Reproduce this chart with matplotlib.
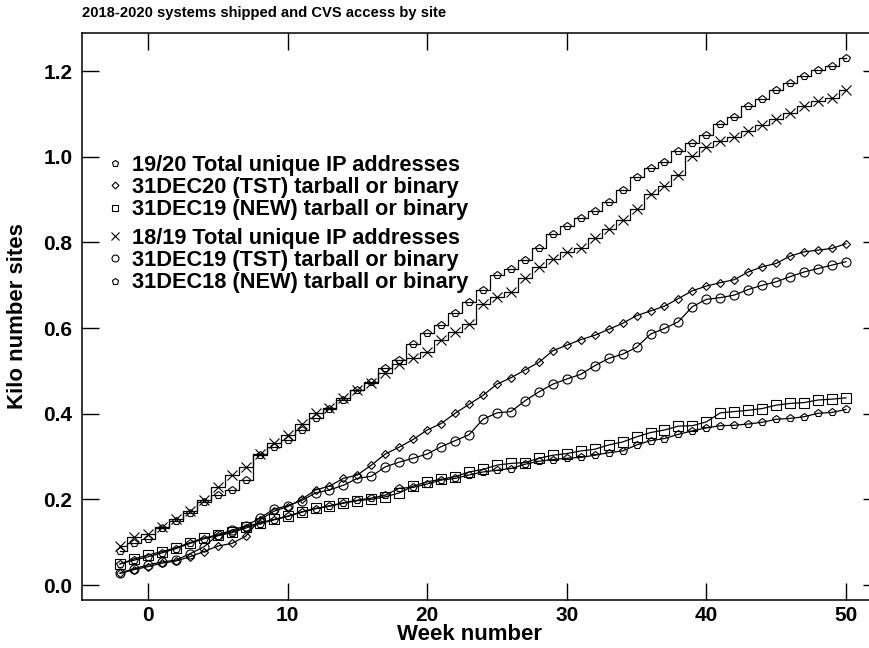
import matplotlib
matplotlib.use("Agg")
import matplotlib.pyplot as plt
from matplotlib.lines import Line2D

plt.rcParams['font.family'] = ['Liberation Sans', 'DejaVu Sans']
plt.rcParams['font.weight'] = 'bold'

weeks = list(range(-2, 51))

# 19/20 total unique IP addresses (step line, pentagons)
total_1920 = [0.080, 0.097, 0.107, 0.134, 0.150, 0.169, 0.195, 0.210, 0.223, 0.245,
              0.303, 0.323, 0.338, 0.363, 0.389, 0.412, 0.432, 0.455, 0.475, 0.507,
              0.525, 0.562, 0.589, 0.607, 0.636, 0.661, 0.690, 0.723, 0.739, 0.760,
              0.787, 0.819, 0.839, 0.856, 0.874, 0.895, 0.922, 0.953, 0.974, 0.988,
              1.014, 1.031, 1.050, 1.077, 1.093, 1.118, 1.136, 1.155, 1.173, 1.189,
              1.202, 1.211, 1.231]
# 18/19 total unique IP addresses (step line, crosses)
total_1819 = [0.092, 0.113, 0.119, 0.136, 0.153, 0.173, 0.198, 0.228, 0.257, 0.276,
              0.305, 0.332, 0.351, 0.375, 0.402, 0.413, 0.436, 0.455, 0.471, 0.496,
              0.516, 0.531, 0.545, 0.572, 0.590, 0.609, 0.657, 0.673, 0.684, 0.716,
              0.743, 0.762, 0.778, 0.788, 0.811, 0.832, 0.852, 0.877, 0.914, 0.932,
              0.957, 1.001, 1.023, 1.036, 1.046, 1.060, 1.074, 1.088, 1.103, 1.119,
              1.130, 1.138, 1.157]
# 31DEC20 (TST) tarball or binary
tst_dec20 = [0.027, 0.036, 0.043, 0.051, 0.056, 0.066, 0.078, 0.091, 0.097, 0.114,
             0.152, 0.172, 0.183, 0.200, 0.222, 0.231, 0.249, 0.257, 0.280, 0.306,
             0.322, 0.340, 0.362, 0.377, 0.401, 0.422, 0.443, 0.469, 0.484, 0.502,
             0.520, 0.547, 0.560, 0.573, 0.583, 0.597, 0.611, 0.629, 0.640, 0.651,
             0.669, 0.687, 0.698, 0.706, 0.713, 0.731, 0.743, 0.751, 0.768, 0.778,
             0.782, 0.786, 0.797]
# 31DEC19 (TST) tarball or binary
tst_dec19 = [0.028, 0.038, 0.047, 0.054, 0.058, 0.073, 0.089, 0.117, 0.128, 0.138,
             0.156, 0.177, 0.185, 0.197, 0.215, 0.222, 0.233, 0.249, 0.254, 0.276,
             0.287, 0.296, 0.306, 0.323, 0.337, 0.351, 0.387, 0.402, 0.405, 0.430,
             0.451, 0.469, 0.481, 0.492, 0.512, 0.529, 0.539, 0.555, 0.586, 0.599,
             0.615, 0.650, 0.667, 0.671, 0.677, 0.690, 0.700, 0.708, 0.720, 0.731,
             0.739, 0.747, 0.755]
# 31DEC19 (NEW) tarball or binary
new_dec19 = [0.049, 0.061, 0.070, 0.078, 0.087, 0.099, 0.110, 0.117, 0.124, 0.136,
             0.145, 0.153, 0.161, 0.171, 0.179, 0.184, 0.191, 0.197, 0.200, 0.206,
             0.215, 0.231, 0.241, 0.247, 0.253, 0.264, 0.270, 0.280, 0.284, 0.286,
             0.296, 0.303, 0.307, 0.313, 0.317, 0.327, 0.334, 0.346, 0.356, 0.362,
             0.371, 0.372, 0.381, 0.402, 0.405, 0.408, 0.412, 0.420, 0.424, 0.426,
             0.432, 0.434, 0.437]
# 31DEC18 (NEW) tarball or binary
new_dec18 = [0.050, 0.058, 0.066, 0.075, 0.085, 0.097, 0.108, 0.115, 0.122, 0.133,
             0.143, 0.152, 0.160, 0.170, 0.178, 0.185, 0.192, 0.198, 0.203, 0.210,
             0.226, 0.228, 0.236, 0.245, 0.249, 0.257, 0.264, 0.268, 0.272, 0.282,
             0.289, 0.293, 0.296, 0.298, 0.303, 0.309, 0.313, 0.327, 0.337, 0.342,
             0.352, 0.360, 0.367, 0.372, 0.373, 0.376, 0.380, 0.387, 0.389, 0.393,
             0.401, 0.403, 0.410]

x_ticks = [0, 10, 20, 30, 40, 50]
y_ticks = [0.0, 0.2, 0.4, 0.6, 0.8, 1.0, 1.2]

fig = plt.figure(figsize=(8.7, 6.48), dpi=100)
# right edge of the frame falls just outside the picture, like the original
ax = fig.add_axes([82 / 870, 48 / 648, 798 / 870, 567 / 648])

lw = 0.9
mk = dict(mfc='none', mec='k', mew=0.8, color='k', lw=lw)
ax.plot(weeks, total_1920, drawstyle='steps-mid', marker='p', ms=5.5, **mk)
ax.plot(weeks, total_1819, drawstyle='steps-mid', marker='x', ms=6.5, **mk)
ax.plot(weeks, tst_dec20, marker='D', ms=4.5, **mk)
ax.plot(weeks, tst_dec19, marker='o', ms=6.5, **mk)
ax.plot(weeks, new_dec19, marker='s', ms=6.5, **mk)
ax.plot(weeks, new_dec18, marker='p', ms=5.5, **mk)

ax.set_xlim(-4.73, 52.44)
ax.set_ylim(-0.035, 1.289)
ax.set_xticks(x_ticks)
ax.set_yticks(y_ticks)
ax.set_yticklabels([f"{v:.1f}" for v in y_ticks])
ax.tick_params(direction='in', length=12, width=1.0, labelsize=15,
               top=True, right=True)
ax.tick_params(axis='y', pad=7)
ax.tick_params(axis='x', pad=4)
for s in ax.spines.values():
    s.set_linewidth(1.1)

fig.text(82 / 870, 1 - 13 / 648, "2018-2020 systems shipped and CVS access by site",
         fontsize=10.6, fontweight='bold', ha='left', va='center')
fig.text(470 / 870, 1 - 635 / 648, "Week number", fontsize=16,
         fontweight='bold', ha='center', va='center')
fig.text(18 / 870, 1 - 316 / 648, "Kilo number sites", fontsize=16,
         fontweight='bold', ha='center', va='center', rotation=90)

prop = dict(weight='bold', size=15.7)
leg_kw = dict(frameon=False, handlelength=0.8, handletextpad=0.4,
              borderpad=0, borderaxespad=0, labelspacing=0.05, loc='upper left',
              bbox_transform=fig.transFigure, prop=prop)


def h(marker, ms):
    return Line2D([], [], ls='none', marker=marker, ms=ms, mfc='none', mec='k', mew=0.8)


leg1 = ax.legend([h('p', 4.5), h('D', 3.5), h('s', 5)],
                 ["19/20 Total unique IP addresses",
                  "31DEC20 (TST) tarball or binary",
                  "31DEC19 (NEW) tarball or binary"],
                 bbox_to_anchor=(106 / 870, 1 - 155 / 648), **leg_kw)
ax.add_artist(leg1)
ax.legend([h('x', 5.5), h('o', 5), h('p', 4.5)],
          ["18/19 Total unique IP addresses",
           "31DEC19 (TST) tarball or binary",
           "31DEC18 (NEW) tarball or binary"],
          bbox_to_anchor=(106 / 870, 1 - 228 / 648), **leg_kw)

fig.savefig("out.png", dpi=100)
